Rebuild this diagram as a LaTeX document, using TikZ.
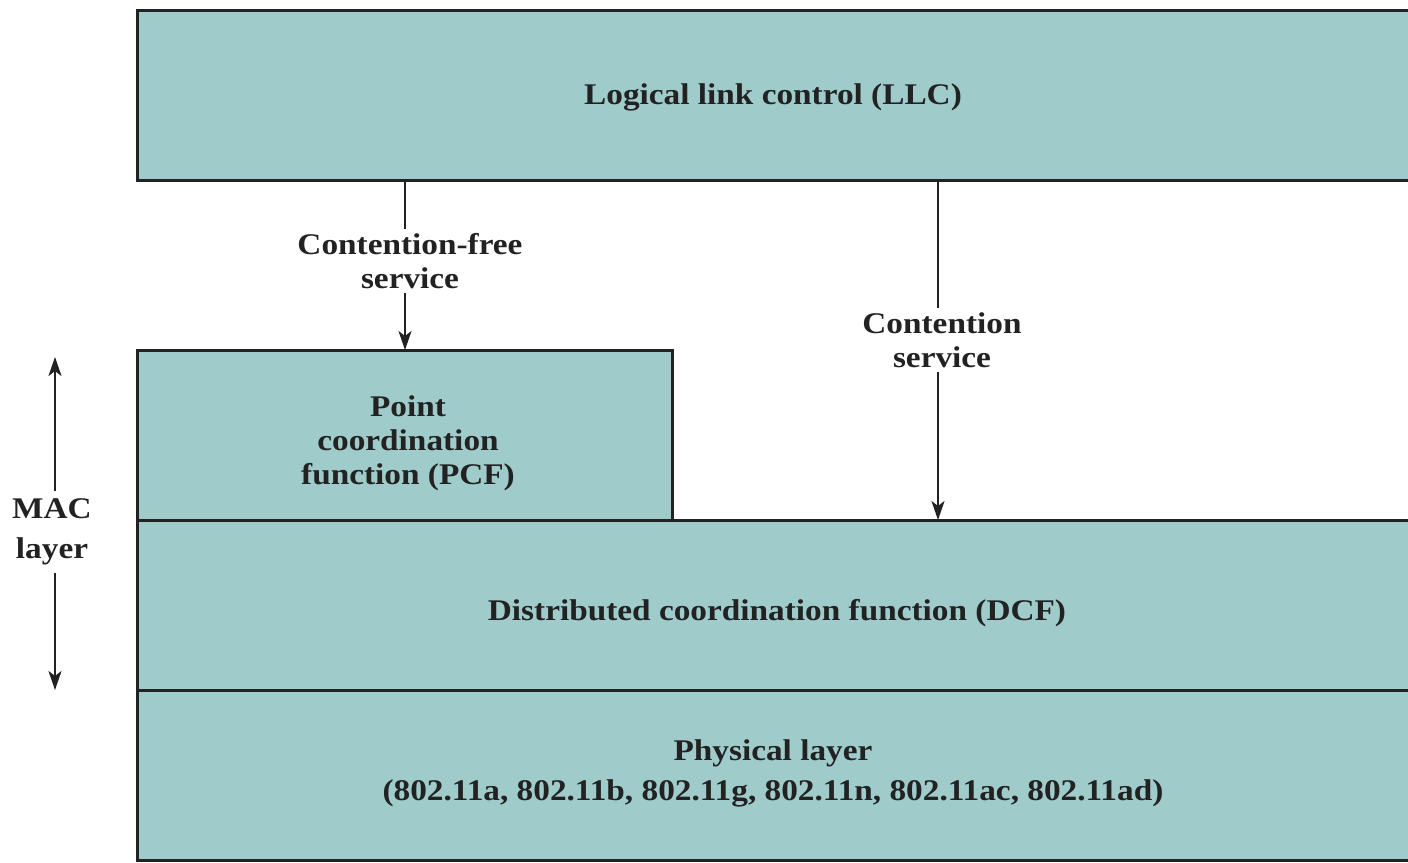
\documentclass[tikz,border=0pt]{standalone}
\usepackage{fontspec}
\setmainfont{Liberation Serif}[FakeStretch=1.11]
\usetikzlibrary{arrows.meta}
\definecolor{boxfill}{HTML}{A0CBCB}
\definecolor{ink}{HTML}{222222}
\tikzset{
  layer/.style={fill=boxfill, draw=none, inner sep=0pt, anchor=north west},
  border/.style={draw=ink, line width=3pt},
  lbl/.style={align=center, font=\fontsize{30}{34}\selectfont\bfseries, text=ink, inner sep=4pt},
  conn/.style={draw=ink, line width=2pt},
  arr/.style={conn, -{Stealth[length=19pt,width=13pt,inset=5pt]}},
}
\begin{document}
\begin{tikzpicture}[x=1pt,y=-1pt]
\useasboundingbox (0,0) rectangle (1408,862);
\fill[white] (0,0) rectangle (1408,862);
% boxes
\node[layer, minimum width=1280pt, minimum height=170pt] (llc) at (137,10) {};
\node[layer, minimum width=535pt, minimum height=170pt] (pcf) at (137,350) {};
\node[layer, minimum width=1280pt, minimum height=170pt] (dcf) at (137,520) {};
\node[layer, minimum width=1280pt, minimum height=170pt] (phy) at (137,690) {};
% texts
\node[lbl] (llct) at (773,97) {Logical link control (LLC)};
\node[lbl] (pcft) at (408,443) {Point\\coordination\\function (PCF)};
\node[lbl] (dcft) at (777,613) {Distributed coordination function (DCF)};
\node[lbl] (phyt) at (773,773) {Physical layer\\[6pt](802.11a, 802.11b, 802.11g, 802.11n, 802.11ac, 802.11ad)};
% borders
\draw[border] (llc.north east) -- (llc.north west) -- (llc.south west) -- (llc.south east);
\draw[border] (pcf.south east) -- (pcf.north east) -- (pcf.north west) -- (pcf.south west);
\draw[border] (dcf.north east) -- (dcf.north west) -- (dcf.south west) -- (dcf.south east);
\draw[border] (phy.north west) -- (phy.south west) -- (phy.south east);
% contention-free service
\node[lbl] (cf) at (410,261) {Contention-free\\service};
\draw[conn] (llc.south -| 405,0) -- (cf.north -| 405,0);
\draw[arr] (cf.south -| 405,0) -- (pcf.north -| 405,0);
% contention service
\node[lbl] (cs) at (942,340) {Contention\\service};
\draw[conn] (llc.south -| 938,0) -- (cs.north -| 938,0);
\draw[arr] (cs.south -| 938,0) -- (dcf.north -| 938,0);
% MAC layer
\node[lbl, inner sep=8pt] (mac) at (52,532) {MAC\\[6pt]layer};
\coordinate (mactop) at (55,357);
\coordinate (macbot) at (55,690);
\draw[arr] (mac.north -| mactop) -- (mactop);
\draw[arr] (mac.south -| macbot) -- (macbot);
\end{tikzpicture}
\end{document}
